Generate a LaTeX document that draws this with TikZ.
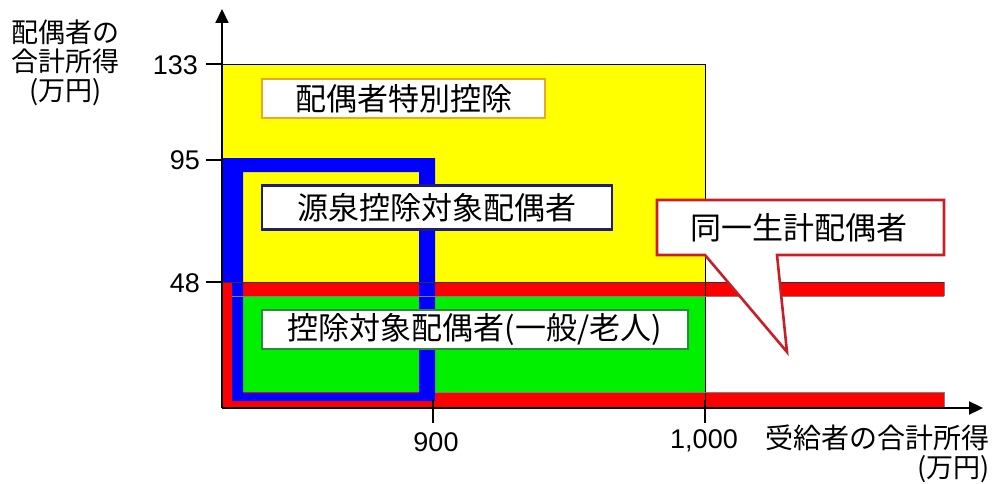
\documentclass[tikz,border=0pt]{standalone}
\usepackage{fontspec}
\setmainfont{Liberation Sans}
\newfontfamily\jp{Noto Sans CJK JP}
\usetikzlibrary{arrows.meta}
\definecolor{ylw}{RGB}{255,255,0}
\definecolor{grn}{RGB}{0,240,0}
\definecolor{rd}{RGB}{255,0,0}
\definecolor{bl}{RGB}{0,0,255}
\definecolor{goldb}{RGB}{230,170,40}
\definecolor{navyb}{RGB}{30,30,120}
\definecolor{grnb}{RGB}{40,140,60}
\definecolor{redb}{RGB}{200,30,40}
\begin{document}
\begin{tikzpicture}[x=1pt,y=-1pt,
  lbox/.style={fill=white, line width=2.8pt, inner sep=0pt, font=\jp\fontsize{31}{34}\selectfont},
  num/.style={font=\fontsize{27}{30}\selectfont, inner sep=0pt},
  jlab/.style={font=\jp\fontsize{27}{29}\selectfont, inner sep=0pt, align=center},
  axis/.style={line width=2.2pt, -{Triangle[length=14pt,width=13pt]}},
  tick/.style={line width=1.6pt}]
\useasboundingbox (0,0) rectangle (1001,484);
\coordinate (O) at (222,408);
\coordinate (ytop) at (222,9);
\coordinate (xend) at (983,408);
% regions
\fill[ylw] (222,64) rectangle (705,282);
\fill[grn] (222,282) rectangle (705,392);
\fill[rd] (222,282) rectangle (944,296);
\fill[rd] (222,392) rectangle (944,408);
\fill[bl, even odd rule] (222,158) rectangle (435,401) (243,172) rectangle (419,393);
\fill[rd] (222,282) rectangle (232,408);
% outlines
\draw[line width=0.9pt] (222,64) -- (705,64) -- (705,423);
\draw[line width=0.8pt, black!80] (222,282) -- (944,282);
\draw[line width=0.5pt, black!50] (232,296) -- (944,296);
\draw[line width=0.5pt, black!50] (435,392) -- (944,392) -- (944,408);
\draw[line width=0.5pt, black!50] (944,282) -- (944,296);
% axes
\draw[axis] (O) -- (ytop);
\draw[axis] (O) -- (xend);
\draw[tick] (206,64) -- (222,64);
\draw[tick] (206,160) -- (222,160);
\draw[tick] (206,282) -- (222,282);
\draw[tick] (433,400) -- (433,423);
\draw[tick] (705,400) -- (705,423);
% tick labels
\node[num, anchor=east] (n133) at (198,65) {133};
\node[num, anchor=east] (n95) at (200,160) {95};
\node[num, anchor=east] (n48) at (200,283) {48};
\node[num] (n900) at (436,442) {900};
\node[num] (n1000) at (704,441) {1,000};
% axis labels
\node[jlab] (ylab) at (66,63) {配偶者の\\合計所得\\(万円)};
\node[jlab, font=\jp\fontsize{28}{30}\selectfont] (xlab) at (877,438) {受給者の合計所得};
\node[jlab, anchor=east, font=\jp\fontsize{27}{30}\selectfont] (xunit) at (990,469) {(万円)};
% label boxes
\node[lbox, draw=goldb, minimum width=283pt, minimum height=39pt] (tokubetsu) at (403.5,98.5) {配偶者特別控除};
\node[lbox, draw=navyb, minimum width=350pt, minimum height=44pt] (gensen) at (437,207.5) {源泉控除対象配偶者};
\node[lbox, draw=grnb, minimum width=426pt, minimum height=39pt] (koujo) at (475,329.5) {控除対象配偶者(一般/老人)};
% callout
\draw[fill=white, draw=redb, line width=2.6pt, line join=miter]
  (657,200) -- (944,200) -- (944,255) -- (777,255) -- (787,352) -- (705,255) -- (657,255) -- cycle;
\node[lbox, fill=none, draw=none] (douitsu) at (799,227.5) {同一生計配偶者};
\end{tikzpicture}
\end{document}
